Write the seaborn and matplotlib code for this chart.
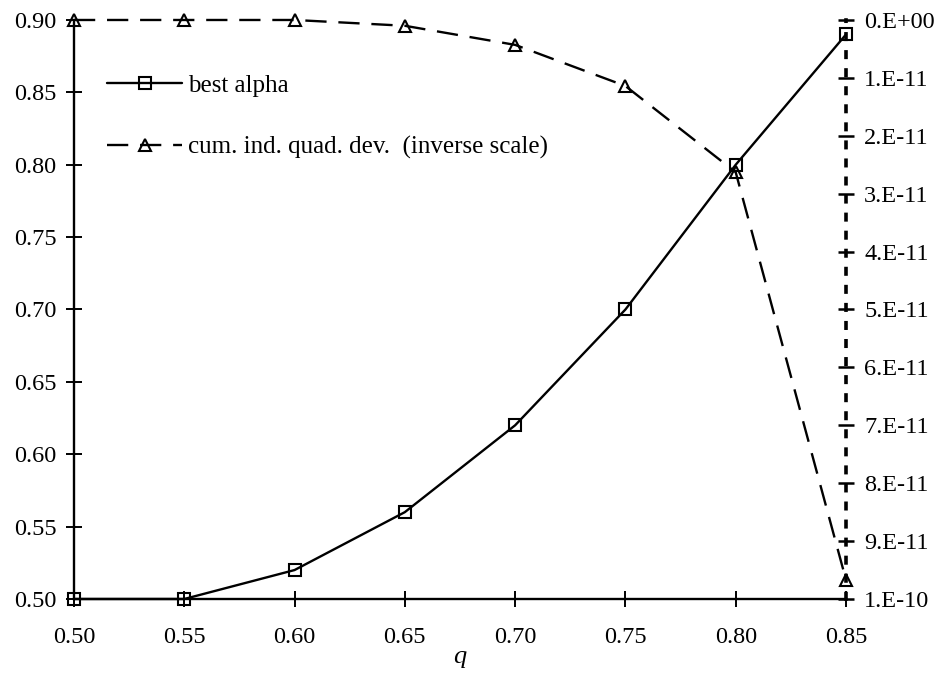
import numpy as np
import pandas as pd
import seaborn as sns
import matplotlib
matplotlib.use("Agg")
import matplotlib.pyplot as plt
from matplotlib.lines import Line2D

# q values on the horizontal axis
q = [0.50, 0.55, 0.60, 0.65, 0.70, 0.75, 0.80, 0.85]
# best alpha for each q (left axis)
best_alpha = [0.50, 0.50, 0.52, 0.56, 0.62, 0.70, 0.80, 0.89]
# cumulative individual quadratic deviation (right axis, inverted)
cum_dev = [0.0, 0.0, 0.0, 0.1e-11, 0.43e-11, 1.14e-11, 2.63e-11, 9.67e-11]

left_ticks = [0.50, 0.55, 0.60, 0.65, 0.70, 0.75, 0.80, 0.85, 0.90]
left_labels = ["0.50", "0.55", "0.60", "0.65", "0.70", "0.75", "0.80", "0.85", "0.90"]
x_ticks = [0.50, 0.55, 0.60, 0.65, 0.70, 0.75, 0.80, 0.85]
x_labels = ["0.50", "0.55", "0.60", "0.65", "0.70", "0.75", "0.80", "0.85"]
right_ticks = [0.0, 1e-11, 2e-11, 3e-11, 4e-11, 5e-11, 6e-11, 7e-11, 8e-11, 9e-11, 1e-10]
right_labels = ["0.E+00", "1.E-11", "2.E-11", "3.E-11", "4.E-11", "5.E-11",
                "6.E-11", "7.E-11", "8.E-11", "9.E-11", "1.E-10"]

sns.set_style("white")
plt.rcParams["font.family"] = ["Liberation Serif", "DejaVu Serif"]
plt.rcParams["mathtext.fontset"] = "custom"
plt.rcParams["mathtext.it"] = "Liberation Serif:italic"
plt.rcParams["text.color"] = "black"
plt.rcParams["axes.labelcolor"] = "black"
plt.rcParams["xtick.color"] = "black"
plt.rcParams["ytick.color"] = "black"

df = pd.DataFrame({"q": q, "alpha": best_alpha, "dev": cum_dev})

DASH = (0, (9, 5))
MS = 8

fig = plt.figure(figsize=(9.4, 6.75), dpi=100)
ax = fig.add_axes([0.0787, 0.1126, 0.9 - 0.0787, 0.9704 - 0.1126])
ax2 = ax.twinx()

sns.lineplot(data=df, x="q", y="alpha", ax=ax, color="black", lw=1.7,
             marker="s", markersize=MS, markerfacecolor="none",
             markeredgecolor="black", markeredgewidth=1.5, clip_on=False,
             legend=False)
sns.lineplot(data=df, x="q", y="dev", ax=ax2, color="black", lw=1.7,
             marker="^", markersize=MS, markerfacecolor="none",
             markeredgecolor="black", markeredgewidth=1.5, clip_on=False,
             legend=False)
ax2.lines[0].set_linestyle(DASH)

ax.set_xlim(0.50, 0.85)
ax.set_ylim(0.50, 0.90)
ax2.set_ylim(1e-10, 0.0)

ax.set_xticks(x_ticks, x_labels)
ax.set_yticks(left_ticks, left_labels)
ax2.set_yticks(right_ticks, right_labels)

for s in ["top", "right"]:
    ax.spines[s].set_visible(False)
for s in ["top", "left", "bottom"]:
    ax2.spines[s].set_visible(False)
for s in ["left", "bottom"]:
    ax.spines[s].set_color("black")
    ax.spines[s].set_linewidth(1.7)
ax2.spines["right"].set_color("black")
ax2.spines["right"].set_linewidth(2.6)
ax2.spines["right"].set_linestyle((0, (1.5, 3.5)))

ax.tick_params(axis="x", direction="inout", length=11, width=1.4,
               labelsize=17.5, pad=15, bottom=True, top=False)
ax.tick_params(axis="y", direction="inout", length=11, width=1.4,
               labelsize=17.5, pad=7, left=True, right=False)
ax2.tick_params(axis="y", direction="inout", length=12, width=1.8,
                labelsize=17.5, pad=7, left=False, right=True)
for t in ax2.yaxis.get_major_ticks():
    t.tick2line.set_linestyle((0, (1.8, 1.6)))

ax.set_xlabel("$q$", fontsize=19, labelpad=0)
ax.set_ylabel("")
ax2.set_ylabel("")

h1 = Line2D([], [], color="black", lw=1.7, marker="s", markersize=MS,
            markerfacecolor="none", markeredgewidth=1.5)
h2 = Line2D([], [], color="black", lw=1.7, linestyle=DASH, marker="^",
            markersize=MS, markerfacecolor="none", markeredgewidth=1.5)
leg = ax.legend([h1, h2], ["best alpha", "cum. ind. quad. dev.  (inverse scale)"],
                loc="upper left", bbox_to_anchor=(0.043, 0.906),
                frameon=False, fontsize=18, handlelength=3.0, numpoints=1,
                handletextpad=0.25, labelspacing=1.57, borderaxespad=0,
                borderpad=0)
ax2.set_zorder(ax.get_zorder() - 1)
ax.patch.set_visible(False)

fig.savefig("out.png", dpi=100)
